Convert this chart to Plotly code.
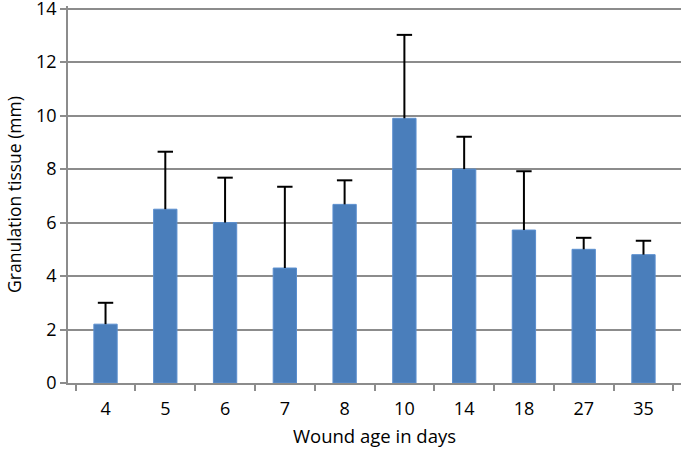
import plotly.graph_objects as go

days = ["4", "5", "6", "7", "8", "10", "14", "18", "27", "35"]
tissue_mm = [2.2, 6.5, 6.0, 4.3, 6.68, 9.9, 8.0, 5.72, 5.0, 4.8]
sd_mm = [0.8, 2.15, 1.68, 3.04, 0.9, 3.12, 1.21, 2.2, 0.43, 0.52]
y_ticks = [0, 2, 4, 6, 8, 10, 12, 14]
upper = [v + s for v, s in zip(tissue_mm, sd_mm)]

fig = go.Figure()
fig.add_trace(go.Bar(
    x=days, y=tissue_mm,
    marker=dict(color="#4a7ebb", line=dict(color="#5b8fcf", width=1)),
    error_y=dict(type="data", array=sd_mm, symmetric=False,
                 arrayminus=[0] * len(sd_mm),
                 color="black", thickness=2, width=0),
    width=0.39,
))
# caps at the top end of the error bars only
fig.add_trace(go.Scatter(
    x=days, y=upper, mode="markers",
    marker=dict(symbol="line-ew", size=11, color="black",
                line=dict(color="black", width=2)),
    hoverinfo="skip",
))

fam = "Open Sans, Liberation Sans, sans-serif"
fig.update_layout(
    width=685, height=453,
    margin=dict(l=68, r=4, t=6.3, b=70),
    plot_bgcolor="white", paper_bgcolor="white",
    showlegend=False,
    font=dict(family=fam, size=18, color="black"),
    xaxis=dict(
        type="category", tickson="boundaries", ticks="outside", ticklen=6,
        tickcolor="#8c8c8c", tickwidth=1.5,
        showline=True, linecolor="#8c8c8c", linewidth=1.5,
        showgrid=False, automargin=False, ticklabelstandoff=9,
        title=dict(text="Wound age in days", font=dict(size=18.5), standoff=11),
        tickfont=dict(size=18),
    ),
    yaxis=dict(
        range=[0, 14.1], tickmode="array", tickvals=y_ticks,
        ticks="outside", ticklen=6, tickcolor="#8c8c8c", tickwidth=1.5,
        showline=True, linecolor="#8c8c8c", linewidth=1.5,
        showgrid=True, gridcolor="#8c8c8c", gridwidth=1.5,
        zeroline=False, automargin=False, ticklabeloverflow="allow",
        title=dict(text="Granulation tissue (mm)", font=dict(size=17.5), standoff=10),
        tickfont=dict(size=18),
    ),
)

fig.write_html("out.html", config={"displayModeBar": False},
               post_script="document.body.style.margin='0';")
